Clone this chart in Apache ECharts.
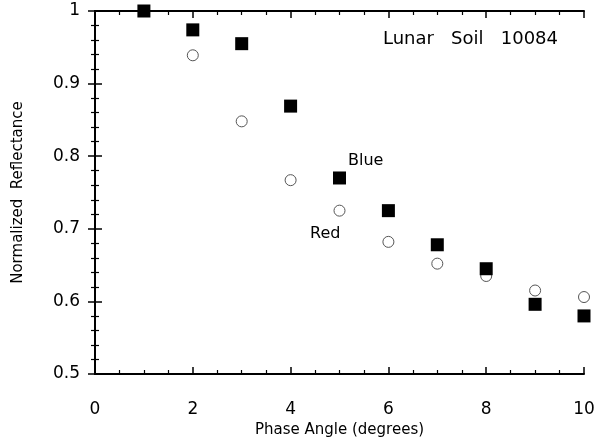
<!DOCTYPE html>
<html><head><meta charset="utf-8">
<script src="https://cdn.jsdelivr.net/npm/echarts@6/dist/echarts.min.js"></script>
<style>html,body{margin:0;padding:0;background:#fff}#c{width:598px;height:439px}</style>
</head><body><div id="c"></div>
<script>
const phase = [1,2,3,4,5,6,7,8,9,10];
const blue = [1.0,0.974,0.955,0.869,0.770,0.725,0.678,0.645,0.596,0.580];
const red  = [1.0,0.939,0.848,0.767,0.725,0.682,0.652,0.635,0.615,0.606];
const xTicks = [0,2,4,6,8,10];
const yTicks = [0.5,0.6,0.7,0.8,0.9,1];
const FONT = 'DejaVu Sans';
const chart = echarts.init(document.getElementById('c'));
const axisCommon = {
  axisLine:{show:true,lineStyle:{color:'#000',width:2}},
  axisTick:{show:true,inside:true,length:7,lineStyle:{color:'#000',width:1.5}},
  minorTick:{show:true,length:4,lineStyle:{color:'#000',width:1.2}},
  splitLine:{show:false}
};
chart.setOption({
  animation:false,
  backgroundColor:'#fff',
  grid:{left:95,right:14,top:11,bottom:65,outerBoundsMode:'none',containLabel:false},
  xAxis:[
    Object.assign({type:'value',min:0,max:10,interval:2,position:'bottom',
      minorTick:Object.assign({},axisCommon.minorTick,{splitNumber:4}),
      axisLabel:{color:'#000',fontSize:17,fontFamily:FONT,margin:27,
        formatter:v=>xTicks.includes(v)?String(v):''},
      name:'Phase Angle (degrees)',nameLocation:'middle',nameGap:46,
      nameTextStyle:{color:'#000',fontSize:15,fontFamily:FONT}},
      {axisLine:axisCommon.axisLine,axisTick:axisCommon.axisTick,splitLine:axisCommon.splitLine}),
    Object.assign({type:'value',min:0,max:10,interval:2,position:'top',axisLabel:{show:false},
      minorTick:Object.assign({},axisCommon.minorTick,{splitNumber:4})},
      {axisLine:axisCommon.axisLine,axisTick:axisCommon.axisTick,splitLine:axisCommon.splitLine})
  ],
  yAxis:[
    Object.assign({type:'value',min:0.5,max:1,interval:0.1,position:'left',
      minorTick:Object.assign({},axisCommon.minorTick,{splitNumber:5}),
      axisLabel:{color:'#000',fontSize:17,fontFamily:FONT,margin:15,
        formatter:v=>{const r=Math.round(v*10)/10; return yTicks.includes(r)?(r===1?'1':r.toFixed(1)):'';}},
      name:'Normalized  Reflectance',nameLocation:'middle',nameGap:69,
      nameTextStyle:{color:'#000',fontSize:15,fontFamily:FONT}},
      {axisLine:axisCommon.axisLine,axisTick:axisCommon.axisTick,splitLine:axisCommon.splitLine}),
    Object.assign({type:'value',min:0.5,max:1,interval:0.1,position:'right',axisLabel:{show:false},
      minorTick:Object.assign({},axisCommon.minorTick,{splitNumber:5})},
      {axisLine:axisCommon.axisLine,axisTick:axisCommon.axisTick,splitLine:axisCommon.splitLine})
  ],
  series:[
    {name:'Red',type:'scatter',symbol:'circle',symbolSize:11,
      itemStyle:{color:'#fff',borderColor:'#555',borderWidth:1,opacity:1},
      data:phase.map((p,i)=>[p,red[i]]),z:2},
    {name:'Blue',type:'scatter',symbol:'rect',symbolSize:13,
      itemStyle:{color:'#000',opacity:1},
      data:phase.map((p,i)=>[p,blue[i]]),z:3}
  ],
  graphic:[
    {type:'text',left:383,top:30,style:{text:'Lunar   Soil   10084',fontSize:18,fontFamily:FONT,fill:'#000'}},
    {type:'text',left:348,top:153,style:{text:'Blue',fontSize:16,fontFamily:FONT,fill:'#000'}},
    {type:'text',left:310,top:226,style:{text:'Red',fontSize:16,fontFamily:FONT,fill:'#000'}}
  ]
});
</script></body></html>
